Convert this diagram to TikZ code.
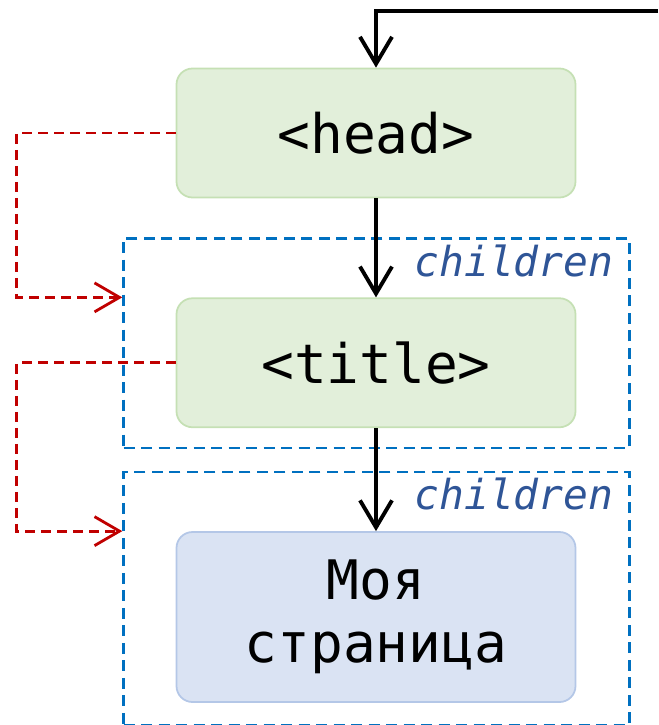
\documentclass[tikz,border=0pt]{standalone}
\usepackage{fontspec}
\setmonofont{DejaVu Sans Mono}
\usetikzlibrary{calc}
\usetikzlibrary{arrows.meta,fit,positioning}
\tikzstyle{tagbox} = [rectangle, rounded corners=0.32cm, minimum width=7.98cm, minimum height=2.58cm, text centered, draw=tagline, line width=1pt, fill=tagfill, font=\fontsize{31}{36}\ttfamily]
\tikzstyle{textbox} = [tagbox, minimum height=3.4cm, draw=textline, fill=textfill, align=center]
\tikzstyle{kidsbox} = [rectangle, draw=kidsblue, line width=1.5pt, dash pattern=on 0.22cm off 0.13cm, inner sep=0pt]
\tikzstyle{kidslabel} = [font=\fontsize{23.5}{28}\ttfamily\itshape, text=kidstext, inner sep=0pt]
\tikzstyle{flowline}=[draw, line width=2.2pt, color=black, -{Straight Barb[length=0.54cm,width=0.64cm]}]
\tikzstyle{refline}=[draw, line width=1.6pt, color=refred, dash pattern=on 0.2cm off 0.12cm, -{Straight Barb[length=0.5cm,width=0.58cm]}]
\definecolor{tagfill}{HTML}{E2EFDA}
\definecolor{tagline}{HTML}{C5E0B4}
\definecolor{textfill}{HTML}{DAE3F3}
\definecolor{textline}{HTML}{B4C7E7}
\definecolor{kidsblue}{HTML}{0070C0}
\definecolor{kidstext}{HTML}{2F5597}
\definecolor{refred}{HTML}{C00000}

\begin{document}
\begin{tikzpicture}[node distance=1.98cm,auto]
  \useasboundingbox (-7.52,2.66) rectangle (5.64,-11.84);
  \node (head) [tagbox] at (0,0) {<head>};
  \node (title) [tagbox, below=of head] {<title>};
  \node (msg) [textbox, below=2.06cm of title] {Моя\\страница};

  % children frames
  \coordinate (k1a) at ($(title.north west)+(-1.04,1.18)$);
  \coordinate (k1b) at ($(title.south east)+(1.06,-0.4)$);
  \node (kids1) [kidsbox, fit=(k1a)(k1b)] {};
  \coordinate (k2a) at ($(msg.north west)+(-1.04,1.18)$);
  \coordinate (k2b) at ($(msg.south east)+(1.06,-0.44)$);
  \node (kids2) [kidsbox, fit=(k2a)(k2b)] {};
  \node (kidsname1) [kidslabel, anchor=base east] at ($(kids1.north east)+(-0.34,-0.78)$) {children};
  \node (kidsname2) [kidslabel, anchor=base east] at ($(kids2.north east)+(-0.34,-0.78)$) {children};

  \coordinate (entry) at ($(head.north)+(5.64,1.14)$);
  \path [flowline] (entry) -| (head.north);
  \draw [flowline] (head) -- (title);
  \draw [flowline] (title) -- (msg);

  \coordinate (hook1) at ($(head.west)+(-3.18,0)$);
  \path [refline] (head.west) -- (hook1) |- (kids1.west |- title.north);
  \coordinate (hook2) at ($(title.west)+(-3.18,0)$);
  \path [refline] (title.west) -- (hook2) |- (kids2.west |- msg.north);
\end{tikzpicture}
\end{document}
